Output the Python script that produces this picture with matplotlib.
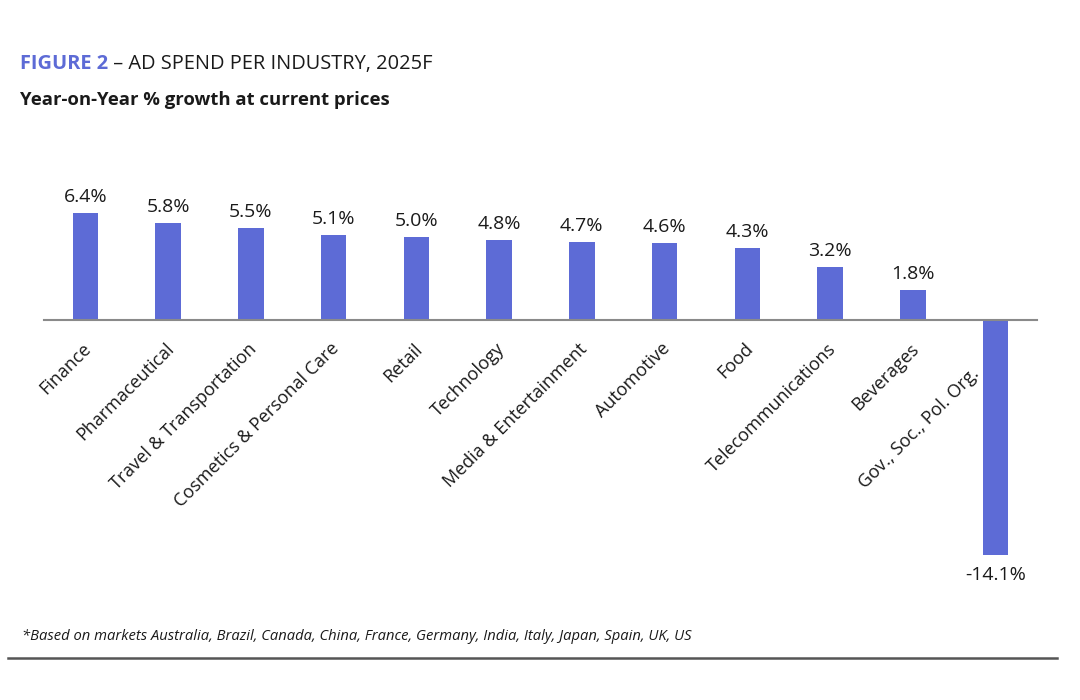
import matplotlib
matplotlib.use("Agg")
import matplotlib.pyplot as plt
from matplotlib.transforms import offset_copy

categories = ["Finance", "Pharmaceutical", "Travel & Transportation",
              "Cosmetics & Personal Care", "Retail", "Technology",
              "Media & Entertainment", "Automotive", "Food",
              "Telecommunications", "Beverages", "Gov., Soc., Pol. Org."]
growth = [6.4, 5.8, 5.5, 5.1, 5.0, 4.8, 4.7, 4.6, 4.3, 3.2, 1.8, -14.1]
value_labels = ["6.4%", "5.8%", "5.5%", "5.1%", "5.0%", "4.8%", "4.7%",
                "4.6%", "4.3%", "3.2%", "1.8%", "-14.1%"]

title_bold = "FIGURE 2"
title_rest = " – AD SPEND PER INDUSTRY, 2025F"
subtitle = "Year-on-Year % growth at current prices"
footnote = ("*Based on markets Australia, Brazil, Canada, China, France, Germany, "
            "India, Italy, Japan, Spain, UK, US")

BAR = "#5D6BD6"
TXT = "#1a1a1a"
plt.rcParams['font.family'] = ['Open Sans', 'DejaVu Sans']

fig = plt.figure(figsize=(10.8, 7.0), dpi=100)
ax = fig.add_axes([44/1080, 140/700, 993/1080, 380/700])

x = list(range(len(categories)))
ax.bar(x, growth, width=0.31, color=BAR, zorder=2)
ax.set_xlim(-0.5, 11.5)
ax.set_ylim(-14.4, 8.4)

for s in ["top", "right", "left"]:
    ax.spines[s].set_visible(False)
ax.spines["bottom"].set_position(("data", 0))
ax.spines["bottom"].set_color("#8a8a8a")
ax.spines["bottom"].set_linewidth(1.5)
ax.spines["bottom"].set_zorder(3)
ax.set_yticks([])
ax.set_xticks([])

# category labels, rotated, right end anchored just below the zero line
for xi, cat in zip(x, categories):
    if xi == len(categories) - 1:
        dx, dy = -19, -51
    else:
        dx, dy = 3, -26
    tr = offset_copy(ax.transData, fig=fig, x=dx, y=dy, units="dots")
    ax.text(xi, 0, cat, transform=tr, rotation=45, rotation_mode="anchor",
            ha="right", va="center", fontsize=13, color=TXT)

for xi, v, lab in zip(x, growth, value_labels):
    if v >= 0:
        ax.annotate(lab, (xi, v), xytext=(0, 5), textcoords="offset points",
                    ha="center", va="bottom", fontsize=14, color=TXT)
    else:
        ax.annotate(lab, (xi, v), xytext=(0, -8), textcoords="offset points",
                    ha="center", va="top", fontsize=14, color=TXT)

# Title
t1 = fig.text(20/1080, 1 - 64/700, title_bold, fontsize=14.4, fontweight="bold",
              color=BAR, va="center", ha="left")
fig.canvas.draw()
bb = t1.get_window_extent()
fig.text(bb.x1/1080, 1 - 64/700, title_rest, fontsize=14.4, color=TXT,
         va="center", ha="left")
fig.text(20/1080, 1 - 100/700, subtitle, fontsize=13.3, fontweight="bold",
         color=TXT, va="center", ha="left")
fig.text(22/1080, 1 - 636/700, footnote, fontsize=10.65, style="italic",
         color=TXT, va="center", ha="left")
fig.add_artist(plt.Line2D([8/1080, 1057/1080], [1 - 658/700, 1 - 658/700],
                          color="#555555", linewidth=1.8))

fig.savefig("out.png", dpi=100, facecolor="white")
